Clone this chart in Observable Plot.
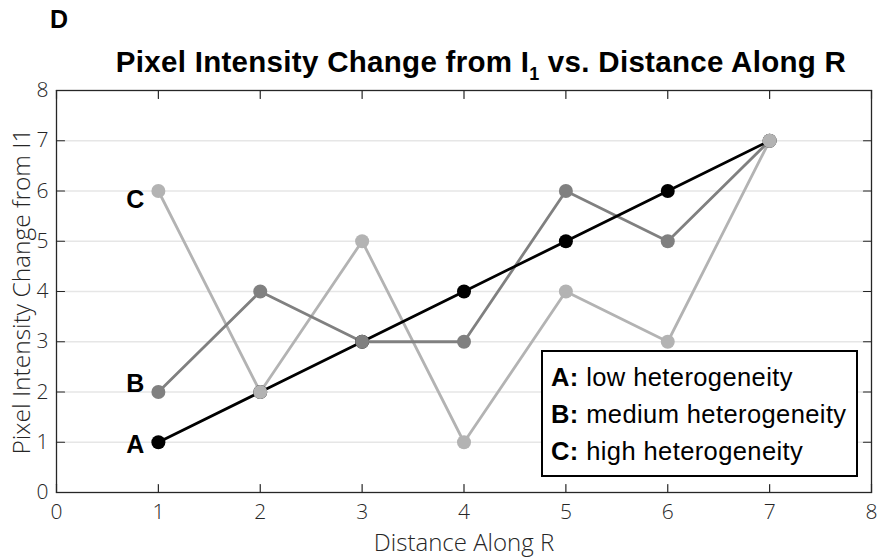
<!DOCTYPE html>
<html>
<head>
<meta charset="utf-8">
<script src="https://cdn.jsdelivr.net/npm/d3@7"></script>
<script src="https://cdn.jsdelivr.net/npm/@observablehq/plot@0.6"></script>
<style>
  html, body { margin: 0; padding: 0; background: #fff; }
  #wrap { position: relative; width: 880px; height: 559px; overflow: hidden; font-family: "Liberation Sans", Arial, sans-serif; }
  #chart svg { opacity: 0.999; }
  #panel { position: absolute; left: 50px; top: 5px; font-weight: bold; font-size: 25px; color: #000; line-height: normal; }
  #title { position: absolute; left: 0; width: 880px; top: 45px; text-align: center; font-weight: bold; font-size: 29.5px; letter-spacing: 0.3px; color: #000; white-space: nowrap; padding-left: 82px; box-sizing: border-box; }
  #title sub { font-size: 18px; vertical-align: -8px; line-height: 0; letter-spacing: 0; }
  #legend { position: absolute; left: 541px; top: 350px; width: 313px; height: 123px; border: 2.5px solid #000; background: #fff; font-size: 25.5px; letter-spacing: 0.4px; color: #000; }
  #legend div { position: absolute; left: 8px; white-space: nowrap; line-height: normal; }
  #legend b { font-weight: bold; }
</style>
</head>
<body>
<div id="wrap">
  <div id="chart"></div>
  <div id="panel">D</div>
  <div id="title">Pixel Intensity Change from I<sub>1</sub> vs. Distance Along R</div>
  <div id="legend"></div>
</div>
<script>
// ---- data ----
const distance = [1, 2, 3, 4, 5, 6, 7];
const seriesA = [1, 2, 3, 4, 5, 6, 7];
const seriesB = [2, 4, 3, 3, 6, 5, 7];
const seriesC = [6, 2, 5, 1, 4, 3, 7];
const seriesNames = ["A", "B", "C"];
const legendDescriptions = ["low heterogeneity", "medium heterogeneity", "high heterogeneity"];
const xTicks = [0, 1, 2, 3, 4, 5, 6, 7, 8];
const yTicks = [0, 1, 2, 3, 4, 5, 6, 7, 8];
const gridValues = [1, 2, 3, 4, 5, 6, 7];
const xLabel = "Distance Along R";
const yLabel = "Pixel Intensity Change from I1";

const seriesValues = {A: seriesA, B: seriesB, C: seriesC};
const rows = seriesNames.flatMap(s => distance.map((d, i) => ({series: s, x: d, y: seriesValues[s][i]})));
const firstPoints = seriesNames.map(s => ({series: s, x: distance[0], y: seriesValues[s][0]}));

const colorOf = {A: "#000000", B: "#808080", C: "#b3b3b3"};
const tickShape = {draw(ctx, l) { ctx.moveTo(0, 0); ctx.lineTo(0, -l); }};
const axisFont = "Open Sans";
const axisColor = "#262626";

const lineFor = s => Plot.line(rows.filter(r => r.series === s), {x: "x", y: "y", stroke: colorOf[s], strokeWidth: 2.8});
const dotFor = s => Plot.dot(rows.filter(r => r.series === s), {x: "x", y: "y", r: 7, fill: colorOf[s], stroke: "none"});
const labelFor = (s, dy) => Plot.text(firstPoints.filter(r => r.series === s), {
  x: "x", y: "y", text: "series", dx: -23, dy, fontSize: 25, fontWeight: "bold", fill: "#000",
  fontFamily: "Liberation Sans, Arial, sans-serif", lineAnchor: "middle"
});

const chart = Plot.plot({
  width: 880,
  height: 559,
  marginLeft: 56,
  marginRight: 9,
  marginTop: 90,
  marginBottom: 67,
  x: {domain: [0, 8]},
  y: {domain: [0, 8]},
  style: {background: "#fff", color: axisColor},
  marks: [
    Plot.ruleY(gridValues, {stroke: "#e6e6e6", strokeWidth: 1.5}),
    // inward ticks
    Plot.vector(xTicks, {x: d => d, y: yTicks[0], length: 8, anchor: "start", rotate: 0, shape: tickShape, stroke: axisColor, strokeWidth: 1.2}),
    Plot.vector(xTicks, {x: d => d, y: yTicks[yTicks.length - 1], length: 8, anchor: "start", rotate: 180, shape: tickShape, stroke: axisColor, strokeWidth: 1.2}),
    Plot.vector(yTicks, {x: xTicks[0], y: d => d, length: 8, anchor: "start", rotate: 90, shape: tickShape, stroke: axisColor, strokeWidth: 1.2}),
    Plot.vector(yTicks, {x: xTicks[xTicks.length - 1], y: d => d, length: 8, anchor: "start", rotate: -90, shape: tickShape, stroke: axisColor, strokeWidth: 1.2}),
    Plot.frame({stroke: axisColor, strokeWidth: 1.3}),
    Plot.axisX({ticks: xTicks, tickSize: 0, tickPadding: 12, fontSize: 21, fontFamily: axisFont, fontWeight: 300, label: null, fill: axisColor}),
    Plot.axisY({ticks: yTicks, tickSize: 0, tickPadding: 8, fontSize: 21, fontFamily: axisFont, fontWeight: 300, label: null, fill: axisColor}),
    Plot.text([xLabel], {frameAnchor: "bottom", textAnchor: "middle", dy: 51, fontSize: 24, fontFamily: axisFont, fontWeight: 300, fill: axisColor, lineAnchor: "middle"}),
    Plot.text([yLabel], {frameAnchor: "left", textAnchor: "middle", dx: -34, rotate: -90, fontSize: 24.5, fontFamily: axisFont, fontWeight: 300, fill: axisColor, lineAnchor: "middle"}),
    // lines: C, B, A (A on top), then dots A, B, C
    lineFor("C"), lineFor("B"), lineFor("A"),
    dotFor("A"), dotFor("B"), dotFor("C"),
    labelFor("C", 9), labelFor("B", -8), labelFor("A", 3)
  ]
});
document.getElementById("chart").appendChild(chart);

const legend = document.getElementById("legend");
seriesNames.forEach((s, i) => {
  const div = document.createElement("div");
  div.style.top = (11 + i * 37) + "px";
  div.innerHTML = `<b>${s}:</b> ${legendDescriptions[i]}`;
  legend.appendChild(div);
});
</script>
</body>
</html>
